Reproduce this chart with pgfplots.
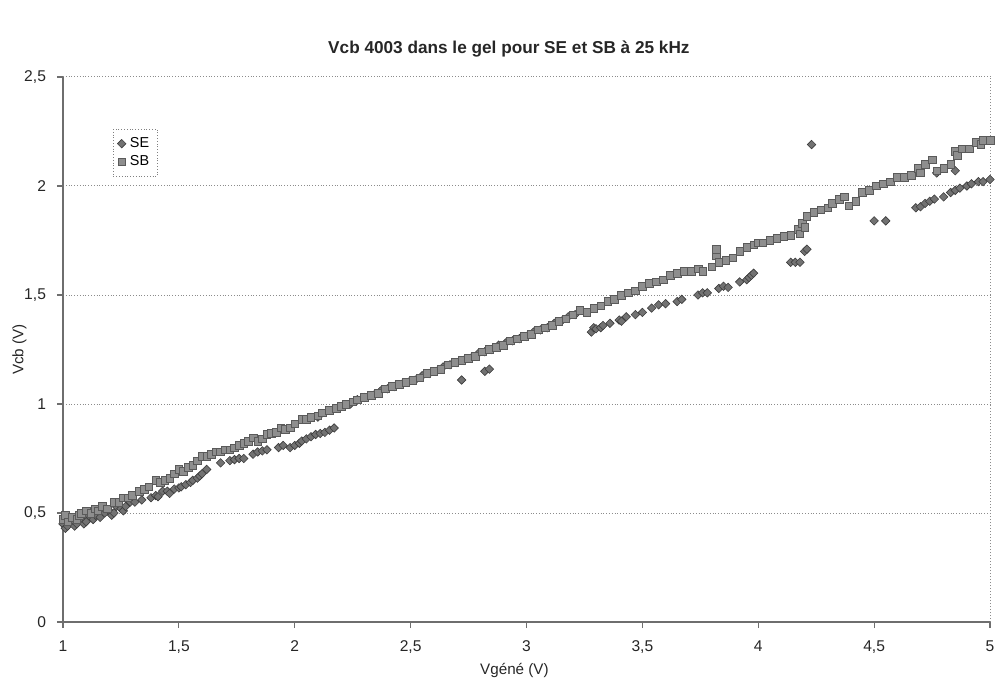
\documentclass[border=0pt]{standalone}
\usepackage{pgfplots}
\pgfplotsset{compat=1.18}
\usepackage{fontspec}
\setmainfont{Liberation Sans}
\usetikzlibrary{calc}
\definecolor{seFill}{HTML}{727272}
\definecolor{seDraw}{HTML}{3C3C3C}
\definecolor{sbFill}{HTML}{8E8E8E}
\definecolor{sbDraw}{HTML}{5A5A5A}
\definecolor{axc}{HTML}{6E6E6E}
\begin{document}
\begin{tikzpicture}
\begin{axis}[
  scale only axis,
  width=463.5pt, height=272.5pt,
  xmin=1, xmax=5, ymin=0, ymax=2.5,
  xtick={1,1.5,...,5}, ytick={0,0.5,...,2.5},
  /pgf/number format/use comma,
  /pgf/number format/assume math mode=true,
  axis x line*=bottom, axis y line*=left,
  axis line style={-, draw=axc, line width=0.7pt},
  tick align=outside, major tick length=3pt,
  tick style={draw=axc, line width=0.6pt},
  ymajorgrids, grid style={densely dotted, draw=black!45, line width=0.5pt},
  ticklabel style={font=\fontsize{7.8}{9}\selectfont, text=black!85},
  yticklabel style={xshift=-2pt},
  xticklabel style={yshift=-3pt},
  title={Vcb 4003 dans le gel pour SE et SB à 25 kHz},
  title style={font=\fontsize{8.6}{10}\selectfont\bfseries, text=black!85, at={(0.481,1)}, anchor=south, yshift=0.5pt},
  xlabel={Vgéné (V)}, ylabel={Vcb (V)},
  xlabel style={font=\fontsize{7.6}{9}\selectfont, text=black!85, at={(0.487,0)}, anchor=north, yshift=-17pt},
  ylabel style={font=\fontsize{7.6}{9}\selectfont, text=black!85, yshift=-8pt},
  legend style={at={(0.054,0.905)}, anchor=north west, draw=black!50, densely dotted, font=\fontsize{7.2}{8.5}\selectfont, row sep=-1.5pt, inner sep=2pt, legend cell align=left, nodes={solid}},
  legend image code/.code={\draw[#1, solid] plot coordinates {(0.18cm,0cm)};},
  clip=false,
]
\addplot[only marks, mark=square*, mark size=1.5pt, mark options={rotate=45, fill=seFill, draw=seDraw, line width=0.3pt, solid}] coordinates {
(1.00,0.45)(1.01,0.43)(1.02,0.44)(1.03,0.47)(1.04,0.46)(1.05,0.44)(1.06,0.45)(1.07,0.48)(1.08,0.47)(1.09,0.45)(1.10,0.46)(1.11,0.49)(1.12,0.48)(1.13,0.47)(1.14,0.49)(1.16,0.48)(1.17,0.51)(1.18,0.50)
(1.20,0.51)(1.21,0.49)(1.22,0.50)(1.23,0.53)(1.25,0.52)(1.26,0.51)(1.27,0.53)(1.29,0.55)(1.31,0.55)(1.34,0.56)(1.38,0.57)(1.40,0.58)(1.41,0.575)(1.43,0.60)
(1.45,0.60)(1.46,0.59)(1.48,0.61)(1.50,0.615)(1.51,0.62)(1.53,0.63)(1.55,0.64)(1.56,0.65)(1.58,0.66)(1.59,0.67)(1.60,0.68)(1.62,0.70)(1.68,0.73)(1.72,0.74)
(1.74,0.745)(1.76,0.75)(1.78,0.75)(1.82,0.77)(1.84,0.78)(1.86,0.785)(1.88,0.79)(1.93,0.80)(1.95,0.81)(1.98,0.80)
(2.00,0.81)(2.02,0.82)(2.03,0.83)(2.05,0.84)(2.07,0.85)(2.09,0.86)(2.10,0.94)(2.11,0.865)(2.13,0.87)(2.15,0.88)(2.17,0.89)
(2.21,0.99)(2.24,1.00)(2.27,1.02)(2.30,1.03)(2.34,1.04)(2.37,1.06)(2.40,1.07)(2.43,1.08)(2.46,1.09)(2.49,1.10)
(2.52,1.11)(2.55,1.13)(2.58,1.14)(2.61,1.15)(2.64,1.17)(2.67,1.18)(2.70,1.19)(2.72,1.11)(2.73,1.20)(2.76,1.21)
(2.79,1.23)(2.82,1.15)(2.84,1.16)(2.82,1.24)(2.85,1.25)(2.88,1.27)(2.91,1.28)(2.94,1.29)(2.97,1.30)(3.00,1.31)
(3.03,1.33)(3.06,1.34)(3.09,1.35)(3.12,1.37)(3.15,1.38)(3.18,1.40)(3.21,1.41)
(3.28,1.33)(3.29,1.35)(3.30,1.345)(3.32,1.35)(3.33,1.36)(3.36,1.37)(3.40,1.385)(3.41,1.38)(3.43,1.40)(3.47,1.41)(3.50,1.42)(3.54,1.44)(3.57,1.455)
(3.60,1.46)(3.65,1.47)(3.67,1.48)(3.74,1.50)(3.76,1.51)(3.78,1.51)(3.83,1.53)(3.85,1.54)(3.87,1.535)(3.92,1.56)
(3.95,1.57)(3.96,1.58)(3.97,1.59)(3.98,1.60)(4.14,1.65)(4.16,1.65)(4.18,1.65)(4.20,1.70)(4.21,1.71)(4.23,2.19)
(4.50,1.84)(4.55,1.84)(4.68,1.90)(4.70,1.905)(4.72,1.92)(4.74,1.93)(4.76,1.94)(4.77,2.06)(4.80,1.95)(4.83,1.97)(4.85,1.98)
(4.85,2.07)(4.87,1.99)(4.90,2.00)(4.92,2.01)(4.95,2.02)(4.97,2.02)(5.00,2.03)
};
\addlegendentry{SE}
\addplot[only marks, mark=square*, mark size=1.9pt, mark options={fill=sbFill, draw=sbDraw, line width=0.3pt, solid}] coordinates {
(1.00,0.47)(1.01,0.49)(1.02,0.46)(1.04,0.48)(1.06,0.47)(1.07,0.49)(1.08,0.50)(1.10,0.51)(1.12,0.50)(1.14,0.52)(1.15,0.51)(1.17,0.53)(1.19,0.52)
(1.22,0.55)(1.24,0.55)(1.26,0.57)(1.28,0.57)(1.30,0.58)(1.33,0.60)(1.35,0.61)(1.37,0.62)(1.40,0.65)(1.42,0.64)
(1.44,0.65)(1.46,0.66)(1.48,0.68)(1.50,0.70)(1.52,0.69)(1.54,0.71)(1.56,0.72)(1.58,0.74)(1.60,0.76)(1.62,0.76)
(1.64,0.77)(1.66,0.78)(1.68,0.78)(1.70,0.79)(1.72,0.79)(1.74,0.80)(1.76,0.81)(1.78,0.82)(1.80,0.83)(1.82,0.845)
(1.84,0.83)(1.86,0.84)(1.88,0.86)(1.90,0.865)(1.92,0.87)(1.94,0.89)(1.96,0.885)(1.98,0.89)(2.00,0.91)(2.03,0.93)
(2.05,0.93)(2.07,0.94)(2.10,0.945)(2.12,0.96)(2.15,0.97)(2.18,0.98)(2.20,0.99)(2.22,1.00)(2.25,1.01)(2.27,1.02)
(2.30,1.03)(2.33,1.04)(2.36,1.05)(2.39,1.07)(2.42,1.08)(2.45,1.09)(2.48,1.10)(2.51,1.11)(2.54,1.12)(2.57,1.14)
(2.60,1.15)(2.63,1.16)(2.66,1.18)(2.69,1.19)(2.72,1.20)(2.75,1.21)(2.78,1.22)(2.81,1.24)(2.84,1.25)(2.87,1.26)
(2.90,1.27)(2.93,1.29)(2.96,1.30)(2.99,1.31)(3.02,1.32)(3.05,1.34)(3.08,1.35)(3.11,1.36)(3.14,1.38)(3.17,1.39)
(3.20,1.41)(3.23,1.43)(3.26,1.42)(3.29,1.44)(3.32,1.45)(3.35,1.47)(3.38,1.48)(3.41,1.50)(3.44,1.51)(3.47,1.52)
(3.50,1.54)(3.53,1.555)(3.56,1.56)(3.59,1.57)(3.62,1.59)(3.65,1.60)(3.68,1.61)(3.71,1.61)(3.74,1.62)(3.76,1.61)
(3.80,1.63)(3.82,1.68)(3.82,1.71)(3.83,1.65)(3.86,1.66)(3.89,1.67)(3.92,1.70)(3.95,1.72)(3.98,1.73)(4.00,1.74)(4.02,1.74)(4.05,1.75)
(4.08,1.76)(4.11,1.77)(4.14,1.775)(4.17,1.80)(4.18,1.78)(4.19,1.83)(4.20,1.81)(4.21,1.86)(4.24,1.88)(4.27,1.89)(4.30,1.90)(4.32,1.92)
(4.35,1.94)(4.37,1.95)(4.39,1.91)(4.42,1.93)(4.45,1.97)(4.48,1.98)(4.51,2.00)(4.54,2.01)(4.57,2.02)(4.60,2.04)
(4.63,2.04)(4.66,2.05)(4.69,2.08)(4.70,2.06)(4.72,2.10)(4.75,2.12)(4.77,2.07)(4.80,2.08)(4.83,2.10)(4.85,2.16)(4.86,2.14)(4.88,2.17)
(4.91,2.17)(4.94,2.20)(4.96,2.19)(4.97,2.21)(5.00,2.21)
};
\addlegendentry{SB}
\draw[densely dotted, draw=black!45, line width=0.5pt] (axis cs:5,0) -- (axis cs:5,2.5);
\end{axis}
\pgfresetboundingbox
\path ($(current axis.south west)+(-31.5pt,-31pt)$) rectangle ($(current axis.north east)+(3pt,38.5pt)$);
\end{tikzpicture}
\end{document}
